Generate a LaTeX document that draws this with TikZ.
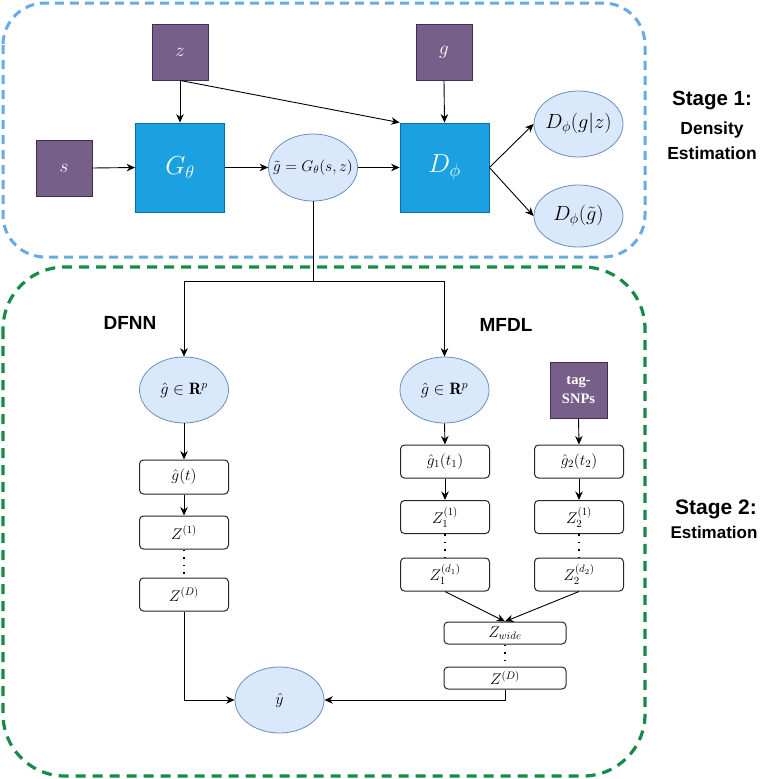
\RequirePackage{fix-cm}
\documentclass[tikz,border=0pt]{standalone}
\usepackage{amsmath}
\usepackage{fontspec}
\newfontfamily\lsans{Liberation Sans}
\newfontfamily\lserif{Liberation Serif}
\usetikzlibrary{shapes.geometric,arrows.meta}
\definecolor{purpfill}{HTML}{76608A}
\definecolor{purpdraw}{HTML}{432D57}
\definecolor{bluefill}{HTML}{1BA1E2}
\definecolor{bluedraw}{HTML}{006EAF}
\definecolor{ellfill}{HTML}{DAE8FC}
\definecolor{elldraw}{HTML}{6C8EBF}
\definecolor{stageone}{RGB}{102,170,232}
\definecolor{stagetwo}{RGB}{22,138,72}
\newcommand{\zc}[1]{\makebox[0pt]{#1}}
\tikzset{
  purp/.style={rectangle, fill=purpfill, draw=purpdraw, line width=0.8pt, text=white,
    minimum width=56pt, minimum height=56pt, inner sep=0pt, font=\fontsize{19}{23}\selectfont},
  bluebox/.style={rectangle, fill=bluefill, draw=bluedraw, line width=0.8pt, text=white,
    minimum width=89pt, minimum height=89pt, inner sep=0pt, font=\fontsize{26}{30}\selectfont},
  ell/.style={ellipse, fill=ellfill, draw=elldraw, line width=0.8pt,
    minimum width=89pt, minimum height=66pt, inner sep=0pt},
  rbox/.style={rectangle, rounded corners=4pt, draw=black!85, line width=1pt, fill=white,
    minimum width=89pt, minimum height=33pt, inner sep=0pt, font=\fontsize{15.5}{18}\selectfont},
  wbox/.style={rbox, minimum width=122pt, minimum height=22pt},
  conn/.style={draw=black, line width=0.9pt, -{Stealth[length=8.5pt,width=7.5pt]}},
  plain/.style={draw=black, line width=0.9pt},
  dotline/.style={draw=black, line width=1.6pt, dash pattern=on 1.6pt off 6pt, line cap=butt},
  lbl/.style={font=\lsans\bfseries\fontsize{19}{22}\selectfont, inner sep=0pt},
  sublbl/.style={font=\lsans\bfseries\fontsize{17.5}{20}\selectfont, inner sep=0pt},
}
\begin{document}
\begin{tikzpicture}[x=1pt,y=-1pt]
\useasboundingbox (0,0) rectangle (762,779);
% stage frames
\draw[stageone, line width=3pt, dash pattern=on 9pt off 6pt, rounded corners=42pt]
  (3,3) rectangle (645,257);
\draw[stagetwo, line width=3.2pt, dash pattern=on 10pt off 7pt, rounded corners=62pt]
  (3,267) rectangle (645,776);
% stage 1 nodes
\node[purp] (z) at (180,52) {$z$};
\node[purp] (s) at (64,168) {$s$};
\node[purp] (g) at (444,52) {$g$};
\node[bluebox] (G) at (180,167.5) {$G_\theta$};
\node[bluebox] (D) at (444.5,167.5) {$D_\phi$};
\node[ell, minimum height=67pt, font=\fontsize{15.5}{18}\selectfont] (gt) at (313,167.5) {\zc{$\tilde g = G_\theta(s,z)$}};
\node[ell, font=\fontsize{20.5}{24}\selectfont] (Dgz) at (578.5,124) {\zc{$D_\phi(g|z)$}};
\node[ell, minimum height=62pt, font=\fontsize{20.5}{24}\selectfont] (Dgt) at (578.5,216) {\zc{$D_\phi(\tilde g)$}};
\node[lbl, font=\lsans\bfseries\fontsize{20.5}{24}\selectfont] (st1a) at (712,101) {Stage 1:};
\node[sublbl] (st1b) at (712,130) {Density};
\node[sublbl] (st1c) at (712,153) {Estimation};
% stage 1 edges
\draw[conn] (z.south) -- (G.north);
\draw[conn] (s.east) -- (G.west);
\draw[conn] (G.east) -- (gt.west);
\draw[conn] (z.south) -- (D.north west);
\draw[conn] (gt.east) -- (D.west);
\draw[conn] (g.south) -- (D.north);
\draw[conn] (D.east) -- (Dgz.west);
\draw[conn] (D.east) -- (Dgt.west);
% stage 2 labels
\node[lbl] (dfnn) at (130,323) {DFNN};
\node[lbl] (mfdl) at (506,325) {MFDL};
\node[lbl, font=\lsans\bfseries\fontsize{21}{24}\selectfont] (st2a) at (716,509) {Stage 2:};
\node[sublbl, font=\lsans\bfseries\fontsize{17}{20}\selectfont] (st2b) at (714,532) {Estimation};
% DFNN column
\node[ell, font=\fontsize{16.5}{19}\selectfont] (hL) at (184,390) {\zc{$\hat g \in \mathbf{R}^p$}};
\node[rbox, minimum height=34pt] (gtL) at (184,477) {$\hat g(t)$};
\node[rbox] (Z1L) at (184,532.5) {$Z^{(1)}$};
\node[rbox] (ZDL) at (184,594.5) {$Z^{(D)}$};
\node[ell, font=\fontsize{16}{18}\selectfont] (yhat) at (279.5,700) {\zc{$\hat y$}};
% MFDL column
\node[ell, font=\fontsize{16.5}{19}\selectfont] (hR) at (444.5,390) {\zc{$\hat g \in \mathbf{R}^p$}};
\node[purp, minimum width=57pt, font=\lserif\bfseries\fontsize{14.5}{19}\selectfont, align=center] (tag) at (578.5,390) {tag-\\SNPs};
\node[rbox] (g1) at (445,461.5) {$\hat g_1(t_1)$};
\node[rbox] (g2) at (579,461.5) {$\hat g_2(t_2)$};
\node[rbox] (Z11) at (445,517) {$Z_1^{(1)}$};
\node[rbox] (Z21) at (579,517) {$Z_2^{(1)}$};
\node[rbox] (Z1d) at (445,574.5) {$Z_1^{(d_1)}$};
\node[rbox] (Z2d) at (579,574.5) {$Z_2^{(d_2)}$};
\node[wbox] (Zw) at (505,633) {$Z_{wide}$};
\node[wbox] (ZDR) at (505,678) {$Z^{(D)}$};
% stage 2 edges
\coordinate (split) at (313,281);
\draw[plain] (gt.south) -- (split);
\draw[conn] (split) -| (hL.north);
\draw[conn] (split) -| (hR.north);
\draw[conn] (hL.south) -- (gtL.north);
\draw[conn] (gtL.south) -- (Z1L.north);
\draw[dotline] (Z1L.south) -- (ZDL.north);
\draw[conn] (ZDL.south) |- (yhat.west);
\draw[conn] (hR.south) -- (g1.north);
\draw[conn] (g1.south) -- (Z11.north);
\draw[dotline] (Z11.south) -- (Z1d.north);
\draw[conn] (tag.south) -- (g2.north);
\draw[conn] (g2.south) -- (Z21.north);
\draw[dotline] (Z21.south) -- (Z2d.north);
\draw[conn] (Z1d.south) -- (Zw.north);
\draw[conn] (Z2d.south) -- (Zw.north);
\draw[dotline] (Zw.south) -- (ZDR.north);
\draw[conn] (ZDR.south) |- (yhat.east);
\end{tikzpicture}
\end{document}
